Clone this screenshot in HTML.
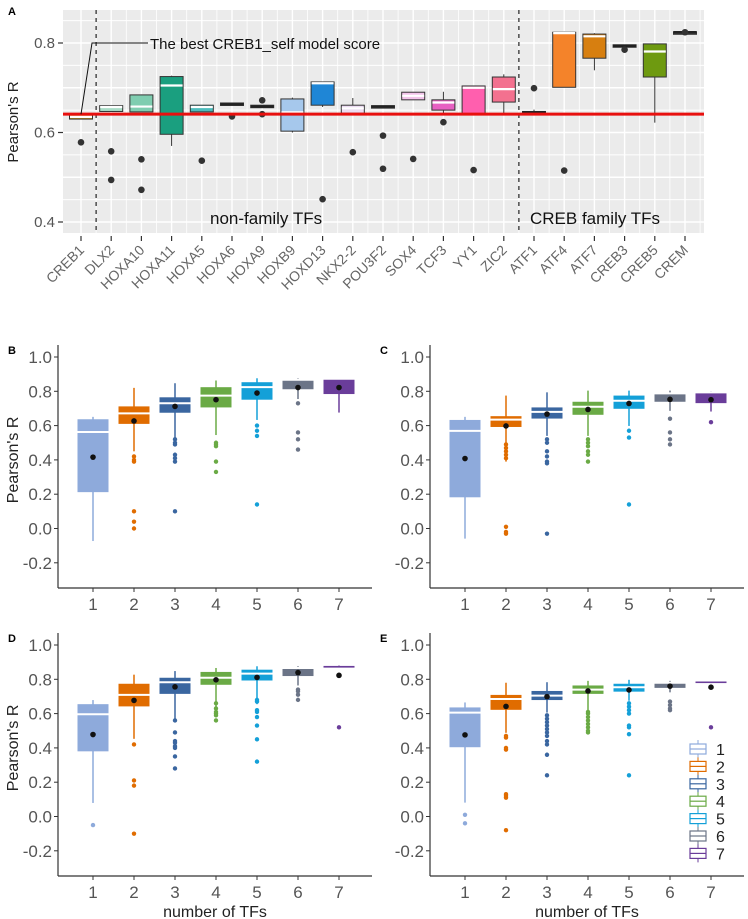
<!DOCTYPE html>
<html><head><meta charset="utf-8"><style>
body{margin:0;background:#fff}
svg{display:block;font-family:"Liberation Sans",sans-serif}
</style></head><body>
<svg id="fig" width="748" height="919" viewBox="0 0 748 919" xmlns="http://www.w3.org/2000/svg"></svg>
<script>
// ---------- Panel A data ----------
const catsA = ["CREB1","DLX2","HOXA10","HOXA11","HOXA5","HOXA6","HOXA9","HOXB9","HOXD13","NKX2-2","POU3F2","SOX4","TCF3","YY1","ZIC2","ATF1","ATF4","ATF7","CREB3","CREB5","CREM"];
const q1A  = [0.630,0.647,0.646,0.596,0.646,0.661,0.656,0.603,0.661,0.643,0.657,0.673,0.650,0.641,0.668,0.643,0.701,0.766,0.791,0.724,0.823];
const medA = [0.635,0.657,0.658,0.705,0.657,0.663,0.658,0.645,0.710,0.654,0.658,0.682,0.667,0.700,0.697,0.645,0.822,0.815,0.794,0.781,0.824];
const q3A  = [0.641,0.660,0.684,0.725,0.661,0.666,0.661,0.675,0.713,0.661,0.660,0.690,0.673,0.704,0.724,0.647,0.824,0.820,0.796,0.798,0.825];
const loA  = [0.630,0.647,0.646,0.570,0.646,0.661,0.656,0.600,0.657,0.643,0.657,0.673,0.643,0.641,0.641,0.643,0.701,0.739,0.791,0.622,0.823];
const hiA  = [0.643,0.660,0.685,0.727,0.661,0.666,0.661,0.678,0.713,0.677,0.660,0.690,0.691,0.704,0.730,0.651,0.825,0.822,0.796,0.798,0.825];
const outA = [[0.578],[0.558,0.494],[0.540,0.472],[],[0.537],[0.636],[0.672,0.641],[],[0.451],[0.556],[0.593,0.519],[0.541],[0.623],[0.516],[],[0.699],[0.515],[],[0.785],[],[0.824]];
const colA = ["#c8961e","#a8dcc6","#7fcdb0","#1a9f7f","#4cbcbc","#444","#444","#a6c8ec","#1f86d6","#ecdcf2","#444","#f2c4ea","#e760c2","#ff5fae","#f3718f","#444","#f4832a","#d77f10","#111","#6e9a10","#444"];
const refScore = 0.641;
const yTicksA = [0.4,0.6,0.8];

// ---------- Panels B-E data (number of TFs 1..7) ----------
const groups = ["1","2","3","4","5","6","7"];
const groupColors = ["#8eaadb","#e06c00","#3a66a0","#6aaa45","#14a0d8","#6b7487","#6a3d9a"];
const yTicksB = [-0.2,0.0,0.2,0.4,0.6,0.8,1.0];
const B_q1 = [0.212,0.610,0.675,0.706,0.751,0.812,0.784];
const B_med= [0.563,0.671,0.730,0.775,0.824,0.867,0.873];
const B_q3 = [0.637,0.712,0.765,0.824,0.853,0.849,0.859];
const B_lo = [-0.073,0.45,0.53,0.545,0.633,0.755,0.676];
const B_hi = [0.651,0.82,0.847,0.863,0.876,0.876,0.876];
const B_mean=[0.416,0.627,0.712,0.751,0.790,0.822,0.822];
const B_out= [[],[0.42,0.40,0.39,0.10,0.04,0.0],[0.52,0.50,0.49,0.43,0.41,0.39,0.10],[0.50,0.49,0.48,0.39,0.33],[0.60,0.57,0.54,0.14],[0.73,0.56,0.52,0.46],[]];

const C_q1 = [0.182,0.592,0.641,0.663,0.698,0.739,0.731];
const C_med= [0.569,0.635,0.680,0.710,0.745,0.788,0.794];
const C_q3 = [0.633,0.655,0.706,0.739,0.775,0.765,0.780];
const C_lo = [-0.059,0.39,0.54,0.54,0.598,0.686,0.682];
const C_hi = [0.651,0.775,0.794,0.804,0.804,0.804,0.80];
const C_mean=[0.408,0.598,0.667,0.694,0.729,0.753,0.751];
const C_out= [[],[0.49,0.47,0.45,0.43,0.41,0.01,-0.02,-0.03],[0.52,0.50,0.45,0.42,0.39,0.38,-0.03],[0.52,0.50,0.48,0.45,0.43,0.39],[0.57,0.53,0.14],[0.64,0.56,0.52,0.49],[0.62]];

const D_q1 = [0.380,0.642,0.715,0.768,0.793,0.819,0.858];
const D_med= [0.596,0.709,0.783,0.809,0.833,0.866,0.862];
const D_q3 = [0.655,0.774,0.809,0.843,0.856,0.848,0.878];
const D_lo = [0.079,0.453,0.563,0.596,0.655,0.764,0.858];
const D_hi = [0.679,0.827,0.848,0.866,0.876,0.876,0.880];
const D_mean=[0.478,0.677,0.756,0.797,0.811,0.839,0.823];
const D_out= [[-0.05],[0.42,0.21,0.18,-0.10],[0.56,0.49,0.44,0.43,0.41,0.40,0.35,0.28],[0.66,0.63,0.61,0.60,0.59,0.56],[0.68,0.67,0.62,0.61,0.58,0.53,0.45,0.32],[0.74,0.73,0.71,0.68],[0.52]];

const E_q1 = [0.404,0.622,0.679,0.715,0.728,0.750,0.778];
const E_med= [0.606,0.685,0.705,0.740,0.754,0.780,0.793];
const E_q3 = [0.636,0.709,0.732,0.764,0.774,0.760,0.783];
const E_lo = [0.081,0.488,0.606,0.622,0.675,0.724,0.778];
const E_hi = [0.665,0.780,0.783,0.791,0.797,0.791,0.795];
const E_mean=[0.476,0.642,0.699,0.732,0.738,0.760,0.754];
const E_out= [[0.01,-0.04],[0.47,0.46,0.40,0.39,0.13,0.12,0.11,-0.08],[0.59,0.57,0.55,0.53,0.51,0.49,0.47,0.44,0.42,0.36,0.24],[0.61,0.60,0.58,0.56,0.54,0.52,0.50,0.49],[0.66,0.64,0.62,0.60,0.53,0.52,0.48,0.24],[0.67,0.65,0.63,0.62],[0.52]];

const NS="http://www.w3.org/2000/svg";
const svg=document.getElementById('fig');
function mk(tag,attrs,parent,text){const e=document.createElementNS(NS,tag);for(const k in attrs)e.setAttribute(k,attrs[k]);if(text!==undefined)e.textContent=text;(parent||svg).appendChild(e);return e;}

// ---------- Panel A ----------
const gA=mk('g',{});


const AX0=63,AX1=704,AY0=10,AY1=233;
const xA=i=>81+i*30.2;
const yA=v=>43+(0.8-v)*447.5;
const bg=mk('rect',{x:AX0,y:AY0,width:AX1-AX0,height:AY1-AY0,fill:'#ebebeb'},gA);


for(let v=0.35;v<=0.851;v+=0.05){const y=yA(v);if(y<AY0||y>AY1)continue;mk('line',{x1:AX0,x2:AX1,y1:y,y2:y,stroke:'#fff','stroke-width':Math.abs(Math.round(v*10)-v*10)<0.01?1.6:1},gA);}
for(let i=0;i<catsA.length;i++){mk('line',{x1:xA(i),x2:xA(i),y1:AY0,y2:AY1,stroke:'#fff','stroke-width':1.4},gA);mk('line',{x1:xA(i)+15.1,x2:xA(i)+15.1,y1:AY0,y2:AY1,stroke:'#fff','stroke-width':0.8},gA);}
mk('text',{x:8,y:15,'font-size':11,'font-weight':'bold',fill:'#000'},gA,'A');
yTicksA.forEach(v=>{const y=yA(v);mk('line',{x1:58,x2:63,y1:y,y2:y,stroke:'#333','stroke-width':1.2},gA);const t=mk('text',{x:55,y:y+5,'font-size':15,fill:'#555','text-anchor':'end'},gA,v.toFixed(1));});
const yt=mk('text',{x:0,y:0,'font-size':15,fill:'#222','text-anchor':'middle',transform:'translate(18,122) rotate(-90)'},gA,"Pearson's R");

[0.5,14.5].forEach(p=>{const l=mk('line',{x1:xA(p),x2:xA(p),y1:AY0,y2:AY1,stroke:'#111','stroke-width':1.1,'stroke-dasharray':'4,4'},gA);});
for(let i=0;i<catsA.length;i++){
  const x=xA(i),w=23;
  const g=mk('g',{},gA);
  
  
  mk('line',{x1:x,x2:x,y1:yA(hiA[i]),y2:yA(loA[i]),stroke:'#333','stroke-width':1},g);
  const top=yA(q3A[i]),bot=yA(q1A[i]);
  mk('rect',{x:x-w/2,y:top,width:w,height:Math.max(bot-top,2.5),fill:colA[i],stroke:'#333','stroke-width':1},g);
  const dark=(colA[i]==='#444'||colA[i]==='#111');
  if(!dark && bot-top>4) mk('line',{x1:x-w/2+0.5,x2:x+w/2-0.5,y1:yA(medA[i]),y2:yA(medA[i]),stroke:'#fff','stroke-width':2.2},g);
  else mk('line',{x1:x-w/2,x2:x+w/2,y1:yA(medA[i]),y2:yA(medA[i]),stroke:'#222','stroke-width':2.4},g);
  outA[i].forEach(v=>{const c=mk('circle',{cx:x,cy:yA(v),r:3.3,fill:'#333'},g);});
  mk('line',{x1:x,x2:x,y1:236,y2:241,stroke:'#333','stroke-width':1.2},gA);
  const t=mk('text',{x:0,y:0,'font-size':14,fill:'#666','text-anchor':'end',transform:`translate(${x+4},251) rotate(-45)`},gA,catsA[i]);
  
}
const ref=mk('line',{x1:AX0,x2:AX1,y1:yA(refScore),y2:yA(refScore),stroke:'#e8100f','stroke-width':3},gA);

const ann=mk('polyline',{points:`${xA(0)},${yA(refScore)} ${92},43 148,43`,fill:'none',stroke:'#111','stroke-width':1},gA);

const at=mk('text',{x:150,y:49,'font-size':15,fill:'#111'},gA,'The best CREB1_self model score');

const nf=mk('text',{x:210,y:224,'font-size':17,fill:'#111'},gA,'non-family TFs');

const cf=mk('text',{x:530,y:224,'font-size':17,fill:'#111'},gA,'CREB family TFs');


// ---------- Panels B-E ----------
function panel(name,label,ax,by,d,opts){
  const g=mk('g',{});
  
  
  const top1=by-(588-357);
  const yS=v=>top1+(1-v)*171.5;
  const xS=i=>ax+35+i*41;
  mk('text',{x:ax-50,y:by-234,'font-size':11,'font-weight':'bold',fill:'#000'},g,label);
  mk('line',{x1:ax,x2:ax,y1:by-243,y2:by,stroke:'#333','stroke-width':1.2},g);
  mk('line',{x1:ax,x2:ax+314,y1:by,y2:by,stroke:'#333','stroke-width':1.2},g);
  yTicksB.forEach(v=>{const y=yS(v);mk('line',{x1:ax-4,x2:ax,y1:y,y2:y,stroke:'#333','stroke-width':1},g);const t=mk('text',{x:ax-6,y:y+6,'font-size':17,fill:'#555','text-anchor':'end'},g,v.toFixed(1));});
  groups.forEach((gr,i)=>{const x=xS(i);mk('line',{x1:x,x2:x,y1:by,y2:by+4,stroke:'#333','stroke-width':1},g);const t=mk('text',{x:x,y:by+22,'font-size':17,fill:'#555','text-anchor':'middle'},g,gr);});
  if(opts.ytitle){const t=mk('text',{x:0,y:0,'font-size':16,fill:'#222','text-anchor':'middle',transform:`translate(${ax-40},${yS(0.4)}) rotate(-90)`},g,"Pearson's R");}
  if(opts.xtitle){const t=mk('text',{x:ax+157,y:by+41,'font-size':16,fill:'#222','text-anchor':'middle'},g,'number of TFs');}
  groups.forEach((gr,i)=>{
    const x=xS(i),w=31,c=groupColors[i];
    const bg=mk('g',{},g);
    
    
    mk('line',{x1:x,x2:x,y1:yS(d.hi[i]),y2:yS(d.lo[i]),stroke:c,'stroke-width':1.5},bg);
    const a=yS(Math.max(d.q1[i],d.q3[i],d.med[i])),b=yS(Math.min(d.q1[i],d.q3[i],d.med[i]));
    mk('rect',{x:x-w/2,y:a,width:w,height:Math.max(b-a,1),fill:c},bg);
    mk('line',{x1:x-w/2,x2:x+w/2,y1:yS(d.med[i]),y2:yS(d.med[i]),stroke:'#fff','stroke-width':2},bg);
    d.out[i].forEach(v=>{const o=mk('circle',{cx:x,cy:yS(v),r:2.2,fill:c},bg);});
    const m=mk('circle',{cx:x,cy:yS(d.mean[i]),r:2.8,fill:'#111'},bg);
    
  });
  if(opts.legend){
    const lg=mk('g',{},g);
    
    
    groups.forEach((gr,i)=>{
      const y=749+i*17.4,c=groupColors[i];
      const e=mk('g',{},lg);
      
      
      mk('line',{x1:698,x2:698,y1:y-9,y2:y+9,stroke:c,'stroke-width':1},e);
      mk('rect',{x:690,y:y-5,width:16,height:10,fill:'#fff',stroke:c,'stroke-width':1.2},e);
      mk('line',{x1:690,x2:706,y1:y,y2:y,stroke:c,'stroke-width':1.2},e);
      mk('text',{x:716,y:y+6,'font-size':16,fill:'#222'},e,gr);
    });
  }
}
panel('b','B',58,588,{q1:B_q1,med:B_med,q3:B_q3,lo:B_lo,hi:B_hi,mean:B_mean,out:B_out},{ytitle:true});
panel('c','C',430,588,{q1:C_q1,med:C_med,q3:C_q3,lo:C_lo,hi:C_hi,mean:C_mean,out:C_out},{});
panel('d','D',58,876,{q1:D_q1,med:D_med,q3:D_q3,lo:D_lo,hi:D_hi,mean:D_mean,out:D_out},{ytitle:true,xtitle:true});
panel('e','E',430,876,{q1:E_q1,med:E_med,q3:E_q3,lo:E_lo,hi:E_hi,mean:E_mean,out:E_out},{xtitle:true,legend:true});
</script>
</body></html>
